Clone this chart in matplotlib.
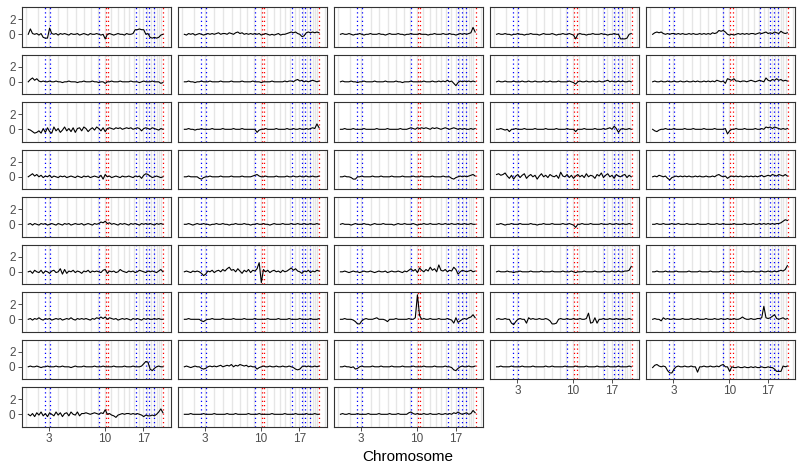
import numpy as np
import matplotlib
matplotlib.use("Agg")
import matplotlib.pyplot as plt

plt.rcParams['font.family'] = ['Liberation Sans', 'DejaVu Sans']

# chromosome lengths (Mb), 1..22, X
chr_len_mb = [249, 243, 198, 191, 181, 171, 159, 146, 141, 136, 135, 134,
              115, 107, 103, 90, 81, 78, 59, 63, 48, 51, 155]
tick_chroms = [3, 10, 17]

# marker loci (Mb, cumulative)
blue_mb = [406, 513, 1555, 2336, 2549, 2626, 2726]
red_mb = [1704, 1753, 2924]

# genome bins
bin_start_mb = 50
bin_step_mb = 45.5

x_lim = (-89, 3081)
y_lim = (-1.62, 3.53)
y_ticks = [0, 2]

# one profile per cell, row-major facet order
cell_01 = [0.0, 0.7, 0.1, 0.0, 0.1, -0.1, 0.1, -0.4,
           -0.5, -0.5, 0.8, 0.1, 0.0, 0.1, -0.1, 0.1,
           0.0, 0.1, 0.0, -0.1, 0.1, 0.0, 0.0, 0.1,
           -0.1, 0.0, 0.1, 0.0, -0.1, 0.1, 0.0, 0.0,
           0.1, 0.0, -0.1, 0.0, -0.6, 0.0, 0.1, 0.0,
           -0.1, 0.0, 0.1, 0.0, 0.0, -0.1, 0.1, 0.0,
           0.0, 0.1, 0.6, 0.6, 0.7, 0.6, 0.6, 0.0,
           0.1, -0.4, -0.5, -0.4, -0.5, -0.4, -0.1, 0.0]
cell_02 = [0.0, -0.1, 0.1, 0.0, 0.1, -0.1, 0.0, 0.1,
           0.0, -0.1, 0.0, 0.1, 0.0, 0.1, 0.0, 0.1,
           0.2, 0.0, 0.1, 0.1, 0.0, 0.2, 0.1, 0.0,
           0.2, 0.3, 0.1, 0.2, 0.0, 0.1, 0.0, 0.1,
           0.0, 0.1, 0.0, 0.1, -0.1, 0.0, 0.1, 0.0,
           -0.1, 0.0, -0.1, 0.0, 0.1, -0.1, 0.0, 0.0,
           0.1, 0.2, 0.3, 0.2, 0.3, 0.1, 0.0, -0.3,
           -0.2, 0.2, 0.3, 0.2, 0.3, 0.2, 0.3, 0.2]
cell_03 = [0.0, 0.1, 0.0, 0.0, 0.1, 0.0, -0.1, 0.0,
           0.0, 0.1, 0.0, -0.1, 0.0, 0.0, 0.1, 0.0,
           0.0, 0.0, 0.1, 0.0, 0.0, -0.1, 0.0, 0.1,
           0.0, 0.0, 0.0, 0.1, 0.0, 0.0, -0.1, 0.0,
           0.0, 0.1, 0.0, 0.0, 0.0, 0.1, 0.0, 0.0,
           0.0, -0.1, 0.0, 0.0, 0.1, 0.0, 0.0, 0.0,
           0.1, 0.0, 0.0, 0.1, 0.0, 0.0, -0.1, 0.0,
           0.1, 0.0, 0.1, 0.0, 0.1, 0.2, 0.9, 0.3]
cell_04 = [0.0, 0.1, 0.0, 0.0, 0.1, 0.0, 0.0, -0.1,
           0.0, 0.0, 0.1, 0.0, 0.0, -0.1, 0.0, 0.0,
           0.1, 0.0, 0.0, 0.0, -0.1, 0.0, 0.1, 0.0,
           0.0, 0.0, 0.1, 0.0, -0.1, 0.0, 0.0, 0.1,
           0.0, 0.0, 0.1, 0.0, -0.1, -0.6, 0.0, 0.1,
           0.0, 0.0, -0.1, 0.0, 0.0, 0.1, 0.0, 0.0,
           0.0, 0.1, 0.0, 0.0, -0.1, 0.0, 0.0, 0.1,
           0.0, 0.0, -0.6, -0.6, -0.6, -0.5, 0.0, 0.1]
cell_05 = [0.0, 0.2, 0.3, 0.2, 0.3, 0.1, 0.0, 0.1,
           0.0, 0.1, 0.1, 0.0, 0.1, 0.0, 0.1, 0.0,
           0.0, 0.1, 0.0, 0.1, 0.0, 0.0, 0.1, 0.0,
           0.1, 0.0, 0.1, 0.0, 0.2, 0.1, 0.2, 0.5,
           0.4, 0.5, 0.3, 0.0, -0.1, 0.0, -0.1, 0.0,
           0.1, 0.0, 0.1, 0.0, 0.1, 0.0, 0.1, 0.1,
           0.0, 0.1, 0.2, 0.1, 0.2, 0.3, 0.1, 0.2,
           0.1, 0.3, 0.2, 0.1, 0.4, 0.2, 0.1, 0.2]
cell_06 = [0.0, 0.3, 0.5, 0.2, 0.4, 0.1, 0.0, 0.1,
           0.0, 0.0, 0.1, 0.0, 0.0, 0.1, 0.0, 0.0,
           -0.1, 0.0, 0.0, 0.1, 0.0, 0.0, 0.0, -0.1,
           0.0, 0.0, 0.1, 0.0, 0.0, 0.0, 0.1, 0.0,
           0.0, -0.1, 0.0, 0.0, -0.2, 0.0, 0.0, 0.1,
           0.0, 0.0, 0.0, 0.1, 0.0, 0.0, 0.0, 0.0,
           0.1, 0.0, 0.0, 0.0, -0.1, 0.0, 0.1, 0.0,
           0.0, 0.0, 0.1, 0.0, 0.0, 0.0, -0.2, -0.1]
cell_07 = [0.0, 0.0, 0.1, 0.0, 0.0, -0.1, 0.0, 0.0,
           0.1, 0.0, 0.0, 0.0, 0.1, 0.0, 0.0, 0.0,
           0.0, 0.1, 0.0, 0.0, 0.0, 0.0, 0.1, 0.0,
           0.0, 0.0, 0.0, 0.1, 0.0, 0.0, 0.0, 0.0,
           0.1, 0.0, 0.0, 0.0, -0.1, 0.0, 0.0, 0.0,
           0.0, 0.1, 0.0, 0.0, 0.0, 0.0, 0.0, 0.1,
           0.0, 0.1, 0.1, 0.0, 0.2, 0.3, 0.1, 0.2,
           0.0, 0.1, 0.0, 0.1, 0.2, 0.1, 0.0, 0.1]
cell_08 = [0.0, 0.1, 0.0, 0.0, 0.0, 0.1, 0.0, 0.0,
           -0.1, 0.0, 0.0, 0.1, 0.0, 0.0, 0.0, 0.0,
           0.1, 0.0, 0.0, 0.0, 0.0, 0.1, 0.0, 0.0,
           0.0, 0.0, 0.1, 0.0, 0.0, -0.1, 0.0, 0.0,
           0.0, 0.1, 0.0, 0.0, 0.0, 0.0, 0.0, 0.1,
           0.0, 0.0, 0.0, 0.1, 0.0, 0.0, 0.1, 0.0,
           0.1, 0.0, 0.2, 0.0, 0.1, -0.2, -0.5, -0.1,
           0.1, 0.0, 0.1, 0.0, 0.1, 0.0, 0.1, 0.0]
cell_09 = [0.0, 0.1, 0.0, 0.0, 0.1, 0.0, 0.0, 0.0,
           0.1, 0.0, 0.0, 0.0, 0.1, 0.0, 0.0, 0.1,
           0.0, 0.0, 0.1, 0.0, 0.0, 0.0, 0.1, 0.0,
           0.0, 0.1, 0.0, 0.0, 0.0, 0.1, 0.0, 0.0,
           0.0, 0.0, 0.1, 0.0, -0.1, -0.3, 0.0, 0.1,
           0.0, 0.0, 0.1, 0.0, 0.0, 0.1, 0.0, 0.0,
           0.1, 0.0, 0.0, 0.1, 0.2, 0.0, 0.1, 0.0,
           0.0, 0.1, 0.0, 0.1, 0.0, 0.0, 0.1, 0.0]
cell_10 = [0.0, 0.1, 0.0, 0.0, 0.1, 0.0, 0.0, 0.1,
           0.0, 0.0, 0.1, 0.0, 0.0, 0.1, 0.0, 0.0,
           0.1, 0.0, 0.0, 0.1, 0.0, 0.1, 0.0, 0.0,
           0.1, 0.0, 0.1, 0.0, 0.1, 0.0, 0.2, 0.1,
           0.0, 0.1, -0.2, 0.4, 0.3, 0.2, 0.4, 0.1,
           0.1, 0.0, 0.1, 0.1, 0.0, 0.1, 0.2, 0.1,
           0.0, 0.1, 0.2, 0.1, 0.0, 0.5, 0.2, 0.1,
           0.3, 0.2, 0.4, 0.2, 0.3, 0.1, 0.2, 0.1]
cell_11 = [0.0, -0.1, -0.3, -0.5, -0.4, -0.2, -0.5, 0.1,
           -0.4, 0.2, -0.3, -0.5, 0.3, -0.2, 0.1, -0.4,
           -0.1, 0.3, -0.2, 0.1, -0.3, 0.2, -0.4, 0.1,
           0.2, -0.2, 0.3, 0.1, -0.3, 0.0, 0.2, -0.1,
           0.3, 0.1, -0.2, 0.2, -0.3, 0.1, 0.2, 0.1,
           0.0, 0.2, 0.1, 0.2, 0.0, 0.1, 0.2, 0.1,
           0.2, 0.0, 0.1, 0.2, 0.1, -0.2, 0.1, 0.2,
           0.1, 0.0, 0.2, 0.1, 0.0, -0.1, 0.1, 0.0]
cell_12 = [0.0, 0.0, 0.1, 0.0, 0.0, -0.1, 0.0, 0.0,
           0.1, 0.0, 0.0, 0.0, 0.0, 0.1, 0.0, 0.0,
           0.0, 0.0, 0.1, 0.0, 0.0, 0.0, 0.0, 0.1,
           0.0, 0.0, 0.0, 0.1, 0.0, 0.0, 0.0, 0.0,
           0.0, 0.0, -0.4, -0.1, 0.0, 0.0, 0.1, 0.0,
           0.0, 0.0, 0.0, 0.1, 0.0, 0.0, 0.0, 0.0,
           0.1, 0.0, 0.0, 0.1, 0.0, 0.0, 0.1, 0.0,
           0.0, 0.1, 0.0, 0.1, 0.2, 0.1, 0.7, 0.2]
cell_13 = [0.0, 0.0, 0.1, 0.0, 0.0, 0.0, 0.1, 0.0,
           0.0, 0.0, 0.0, 0.1, 0.0, 0.0, 0.0, 0.0,
           0.0, 0.1, 0.0, 0.0, 0.0, 0.0, 0.1, 0.0,
           0.0, 0.0, 0.0, 0.0, 0.1, 0.0, 0.0, 0.0,
           0.1, 0.2, 0.1, 0.0, 0.2, 0.1, 0.2, 0.1,
           0.2, 0.1, 0.0, 0.2, 0.1, 0.2, 0.1, 0.0,
           0.1, 0.2, 0.1, 0.0, 0.1, 0.2, 0.1, 0.0,
           0.1, 0.0, 0.1, 0.0, 0.0, 0.1, 0.0, 0.1]
cell_14 = [0.0, 0.0, 0.1, 0.0, -0.1, 0.0, -0.3, 0.0,
           0.0, 0.1, 0.0, 0.0, 0.0, 0.1, 0.0, 0.0,
           0.0, 0.0, 0.1, 0.0, 0.0, 0.0, 0.0, 0.1,
           0.0, 0.0, 0.0, 0.0, 0.1, 0.0, 0.0, 0.0,
           0.0, 0.1, 0.0, 0.0, 0.0, -0.3, 0.0, 0.0,
           0.0, 0.1, 0.0, 0.0, 0.0, 0.0, 0.1, 0.0,
           0.0, 0.0, 0.1, 0.0, 0.1, 0.2, 0.0, 0.4,
           0.1, -0.4, 0.0, 0.1, 0.0, 0.0, 0.1, 0.0]
cell_15 = [0.0, -0.2, -0.3, -0.1, 0.0, 0.0, 0.1, 0.0,
           0.0, 0.0, 0.1, 0.0, 0.0, 0.0, 0.0, 0.1,
           0.0, 0.0, 0.0, 0.1, 0.0, 0.0, 0.0, 0.0,
           0.1, 0.0, 0.0, 0.0, 0.0, 0.1, 0.0, 0.0,
           0.0, 0.0, 0.1, -0.6, -0.2, 0.0, 0.0, 0.1,
           0.0, 0.0, 0.0, 0.1, 0.0, 0.0, 0.0, 0.0,
           0.1, 0.0, 0.0, 0.1, 0.0, 0.3, 0.2, 0.3,
           0.1, 0.3, 0.2, 0.1, 0.0, 0.1, 0.0, 0.1]
cell_16 = [0.0, 0.2, 0.4, 0.1, 0.3, 0.0, 0.2, -0.1,
           0.1, 0.0, 0.2, -0.1, 0.1, 0.0, -0.1, 0.1,
           0.0, 0.1, -0.1, 0.0, 0.1, 0.0, -0.1, 0.1,
           0.0, -0.1, 0.1, 0.0, 0.1, -0.1, 0.0, 0.1,
           0.0, -0.1, 0.2, -0.3, 0.3, 0.0, 0.1, -0.1,
           0.0, 0.1, 0.0, -0.1, 0.1, 0.0, 0.0, 0.1,
           0.0, -0.1, 0.1, 0.0, 0.1, -0.2, 0.2, 0.4,
           0.3, 0.1, -0.1, 0.0, 0.1, 0.0, -0.1, 0.0]
cell_17 = [0.0, 0.0, 0.1, 0.0, 0.0, 0.0, 0.0, -0.2,
           -0.3, -0.1, 0.0, 0.0, 0.1, 0.0, 0.0, 0.0,
           0.0, 0.1, 0.0, 0.0, 0.0, 0.0, 0.1, 0.0,
           0.0, 0.0, 0.0, 0.1, 0.0, 0.0, 0.0, 0.0,
           0.1, 0.2, 0.3, 0.1, 0.0, 0.0, 0.1, 0.0,
           0.0, 0.0, 0.0, 0.1, 0.0, 0.0, 0.0, 0.0,
           0.1, 0.0, 0.0, 0.1, 0.0, 0.0, 0.1, 0.0,
           0.0, 0.1, 0.0, 0.0, 0.1, 0.0, 0.0, 0.1]
cell_18 = [0.0, 0.0, 0.1, 0.0, 0.0, -0.1, -0.3, -0.3,
           0.0, 0.0, 0.1, 0.0, 0.0, 0.0, 0.0, 0.1,
           0.0, 0.0, 0.0, 0.1, 0.0, 0.0, 0.0, 0.0,
           0.1, 0.0, 0.0, 0.0, 0.0, 0.1, 0.0, 0.0,
           0.0, 0.0, 0.1, 0.0, 0.0, 0.0, 0.1, 0.0,
           0.0, 0.0, 0.0, 0.1, 0.0, 0.0, 0.0, 0.0,
           0.1, 0.0, 0.0, 0.0, -0.2, -0.3, -0.1, 0.0,
           0.1, 0.0, 0.1, 0.0, 0.1, 0.2, 0.3, 0.1]
cell_19 = [0.3, 0.4, 0.2, 0.3, 0.5, 0.1, -0.2, 0.2,
           -0.3, 0.1, 0.3, -0.1, 0.2, 0.4, -0.2, 0.1,
           0.3, 0.0, 0.2, -0.3, 0.1, 0.4, 0.0, 0.2,
           -0.1, 0.3, 0.1, 0.0, 0.2, -0.2, 0.6, 0.1,
           0.0, 0.3, -0.1, 0.2, -0.2, 0.1, 0.3, 0.0,
           0.2, -0.1, 0.4, 0.0, 0.2, 0.1, -0.2, 0.3,
           0.1, 0.5, -0.1, 0.2, 0.4, 0.0, 0.2, -0.2,
           0.3, 0.1, 0.0, 0.2, 0.3, -0.1, 0.2, 0.0]
cell_20 = [0.0, 0.1, 0.0, 0.2, 0.1, 0.0, 0.1, -0.2,
           -0.4, -0.1, 0.0, 0.1, 0.0, 0.1, 0.0, 0.1,
           0.0, 0.1, 0.0, 0.0, 0.1, 0.0, 0.1, 0.0,
           0.0, 0.1, 0.0, 0.0, 0.1, 0.0, 0.2, 0.3,
           0.1, 0.0, 0.1, -0.2, 0.0, 0.1, 0.0, 0.1,
           0.0, 0.1, 0.0, 0.0, 0.1, 0.0, 0.1, 0.0,
           0.1, 0.0, 0.1, 0.2, 0.0, 0.1, 0.2, 0.1,
           0.3, 0.2, 0.1, 0.3, 0.2, 0.1, 0.3, 0.1]
cell_21 = [0.0, 0.1, -0.1, 0.1, 0.0, -0.1, 0.1, 0.0,
           0.1, -0.1, 0.0, 0.1, 0.0, -0.1, 0.1, 0.0,
           -0.1, 0.1, 0.0, 0.1, -0.1, 0.0, 0.1, 0.0,
           0.0, 0.1, -0.1, 0.0, 0.1, 0.0, -0.1, 0.1,
           0.0, 0.1, 0.3, 0.2, 0.4, 0.1, 0.2, 0.0,
           0.1, 0.0, -0.1, 0.1, 0.0, 0.1, 0.0, -0.1,
           0.1, 0.0, 0.1, 0.0, -0.1, 0.1, 0.0, 0.1,
           0.0, 0.1, 0.0, -0.1, 0.1, 0.0, 0.1, 0.0]
cell_22 = [0.0, 0.0, 0.1, 0.0, -0.1, 0.0, 0.1, 0.0,
           0.0, 0.1, 0.0, 0.0, -0.1, 0.0, 0.0, 0.1,
           0.0, 0.0, 0.1, 0.0, 0.0, -0.1, 0.0, 0.0,
           0.1, 0.0, 0.0, 0.0, 0.1, 0.0, 0.0, -0.1,
           0.0, 0.0, 0.1, 0.0, 0.0, 0.1, 0.0, 0.0,
           -0.1, 0.0, 0.1, 0.0, 0.0, 0.0, 0.1, 0.0,
           0.0, 0.0, 0.1, 0.0, 0.0, 0.1, 0.0, 0.0,
           0.1, 0.0, 0.0, 0.1, 0.0, 0.0, 0.1, 0.0]
cell_23 = [0.0, 0.1, 0.0, 0.0, 0.0, -0.1, 0.0, 0.1,
           0.0, 0.0, 0.0, 0.1, 0.0, 0.0, -0.1, 0.0,
           0.1, 0.0, 0.0, 0.0, 0.1, 0.0, 0.0, 0.0,
           0.0, -0.1, 0.0, 0.1, 0.0, 0.0, 0.1, 0.0,
           0.0, 0.0, 0.1, 0.0, -0.1, 0.0, 0.0, 0.1,
           0.0, 0.0, 0.1, 0.0, 0.0, 0.0, 0.1, 0.0,
           0.0, 0.1, 0.0, 0.0, 0.1, 0.0, 0.0, 0.1,
           0.0, 0.0, 0.1, 0.0, 0.0, 0.1, 0.0, 0.0]
cell_24 = [0.0, 0.0, 0.1, 0.0, -0.1, 0.0, 0.0, 0.1,
           0.0, 0.0, 0.0, 0.1, 0.0, 0.0, 0.0, 0.0,
           0.1, 0.0, 0.0, -0.1, 0.0, 0.0, 0.1, 0.0,
           0.0, 0.0, 0.1, 0.0, 0.0, 0.0, 0.0, 0.1,
           0.0, 0.0, 0.1, 0.0, -0.1, -0.4, 0.0, 0.0,
           0.1, 0.0, 0.0, 0.0, 0.1, 0.0, 0.0, 0.0,
           0.0, 0.1, 0.0, 0.0, 0.0, 0.1, 0.0, 0.0,
           0.1, 0.0, 0.0, 0.1, 0.0, 0.0, 0.1, 0.0]
cell_25 = [0.0, 0.0, 0.1, 0.0, 0.0, 0.1, 0.0, 0.0,
           0.0, 0.1, 0.0, 0.0, 0.1, 0.0, 0.0, 0.0,
           0.1, 0.0, 0.0, 0.0, 0.0, 0.1, 0.0, 0.0,
           0.0, 0.0, 0.1, 0.0, 0.0, 0.0, 0.1, 0.0,
           0.0, 0.1, 0.0, 0.0, 0.0, 0.0, 0.1, 0.0,
           0.0, 0.0, 0.0, 0.1, 0.0, 0.0, 0.0, 0.1,
           0.0, 0.0, 0.1, 0.0, 0.1, 0.0, 0.1, 0.0,
           0.1, 0.0, 0.1, 0.1, 0.2, 0.4, 0.6, 0.5]
cell_26 = [0.0, 0.1, -0.2, 0.2, 0.0, -0.1, 0.2, -0.2,
           0.1, 0.0, -0.2, 0.1, 0.2, -0.1, 0.0, 0.4,
           -0.3, 0.3, -0.2, 0.1, 0.0, 0.2, -0.1, 0.1,
           0.0, -0.2, 0.1, 0.0, 0.2, -0.1, 0.1, 0.0,
           0.1, 0.0, -0.1, 0.2, 0.3, -0.2, 0.1, 0.0,
           0.1, -0.1, 0.0, 0.3, 0.1, 0.0, -0.1, 0.1,
           0.0, 0.1, -0.1, 0.0, 0.2, 0.1, 0.0, -0.1,
           0.1, 0.0, 0.1, 0.0, -0.1, 0.1, 0.3, 0.0]
cell_27 = [0.0, 0.1, 0.0, -0.1, 0.1, 0.0, 0.1, 0.0,
           -0.2, -0.5, -0.3, 0.1, 0.0, 0.2, -0.1, 0.1,
           0.2, 0.0, 0.3, 0.1, 0.4, 0.6, 0.2, 0.3,
           0.0, 0.4, 0.1, -0.2, 0.2, 0.0, 0.3, -0.1,
           0.2, 0.1, 0.4, 1.2, -1.4, 0.3, 0.0, 0.2,
           -0.1, 0.1, 0.2, 0.0, 0.1, -0.1, 0.2, 0.0,
           0.1, 0.3, 0.5, 0.2, 0.4, 0.1, 0.0, -0.2,
           0.1, 0.0, 0.2, -0.1, 0.1, 0.0, 0.2, 0.1]
cell_28 = [0.0, 0.0, 0.1, 0.0, -0.1, 0.0, 0.1, 0.0,
           0.0, -0.1, 0.0, 0.1, 0.0, 0.0, 0.1, 0.0,
           -0.1, 0.0, 0.1, 0.0, 0.0, 0.1, -0.1, 0.0,
           0.1, 0.0, 0.0, 0.1, 0.0, -0.1, 0.1, 0.0,
           0.2, 0.4, 0.1, 0.3, -0.1, 0.5, 0.2, 0.0,
           0.3, 0.1, 0.6, 0.2, 0.4, 0.0, 0.9, 0.2,
           0.1, 0.3, 0.0, 0.2, 0.1, 0.6, 0.3, -0.3,
           0.0, 0.2, 0.1, 0.0, 0.1, 0.2, 0.0, 0.1]
cell_29 = [0.0, 0.1, 0.0, 0.0, 0.0, 0.1, 0.0, 0.0,
           -0.1, 0.0, 0.0, 0.1, 0.0, 0.0, 0.0, 0.0,
           0.1, 0.0, 0.0, 0.0, 0.0, 0.1, 0.0, 0.0,
           0.0, 0.0, 0.1, 0.0, 0.0, 0.0, 0.0, 0.1,
           0.0, 0.0, 0.0, 0.1, 0.0, -0.1, 0.0, 0.0,
           0.0, 0.1, 0.0, 0.0, 0.0, 0.0, 0.1, 0.0,
           0.0, 0.0, 0.1, 0.0, 0.0, 0.0, 0.1, 0.0,
           0.0, 0.1, 0.0, 0.0, 0.1, 0.1, 0.2, 0.7]
cell_30 = [0.0, 0.0, 0.1, 0.0, 0.0, 0.0, 0.1, 0.0,
           0.0, 0.0, 0.0, 0.1, 0.0, 0.0, 0.0, 0.0,
           0.0, 0.1, 0.0, 0.0, 0.0, 0.0, 0.1, 0.0,
           0.0, 0.0, 0.0, 0.1, 0.0, 0.0, 0.0, 0.0,
           0.1, 0.0, 0.0, 0.0, 0.0, 0.1, 0.0, 0.0,
           0.0, 0.0, 0.1, 0.0, 0.0, 0.0, 0.0, 0.1,
           0.0, 0.0, 0.0, 0.1, 0.0, 0.0, 0.1, 0.0,
           0.0, 0.1, 0.0, 0.1, 0.2, 0.1, 0.3, 0.8]
cell_31 = [0.0, 0.1, -0.1, 0.1, 0.0, 0.2, 0.0, -0.1,
           0.1, 0.0, 0.1, -0.1, 0.0, 0.1, 0.0, 0.1,
           -0.1, 0.0, 0.1, 0.0, 0.2, 0.0, -0.1, 0.1,
           0.0, 0.1, 0.0, 0.1, 0.0, -0.1, 0.1, 0.0,
           0.2, 0.1, 0.3, 0.1, 0.3, 0.0, 0.2, 0.1,
           0.0, 0.1, -0.1, 0.0, 0.1, 0.0, 0.1, 0.0,
           -0.1, 0.1, 0.0, 0.1, 0.0, -0.1, 0.1, 0.0,
           0.1, 0.0, 0.0, 0.1, 0.0, 0.1, 0.0, 0.0]
cell_32 = [0.0, 0.0, 0.1, 0.0, 0.0, 0.0, 0.0, 0.0,
           -0.2, -0.3, -0.1, 0.0, 0.0, 0.1, 0.0, 0.0,
           0.0, 0.0, 0.1, 0.0, 0.0, 0.0, 0.0, 0.1,
           0.0, 0.0, 0.0, 0.0, 0.1, 0.0, 0.0, 0.0,
           0.0, 0.1, 0.0, 0.0, 0.0, 0.0, 0.0, 0.1,
           0.0, 0.0, 0.0, 0.0, 0.1, 0.0, 0.0, 0.0,
           0.0, 0.1, 0.0, 0.0, 0.0, 0.0, 0.1, 0.0,
           0.0, 0.0, 0.0, 0.1, 0.0, 0.0, 0.0, 0.1]
cell_33 = [0.0, 0.0, 0.1, 0.0, 0.0, 0.0, -0.1, -0.3,
           -0.6, -0.6, -0.2, 0.0, 0.1, 0.0, 0.0, 0.0,
           0.1, 0.2, 0.0, 0.0, 0.0, -0.1, -0.3, 0.0,
           0.0, 0.0, 0.1, 0.0, 0.0, 0.0, 0.0, 0.0,
           0.1, 0.0, 0.0, 0.2, 3.2, 0.5, 0.0, 0.1,
           0.0, 0.0, 0.1, 0.0, 0.0, 0.0, 0.1, 0.0,
           0.0, 0.0, 0.1, 0.0, -0.1, -0.5, 0.2, -0.4,
           -0.2, 0.0, 0.1, 0.0, 0.2, 0.3, 0.6, 0.2]
cell_34 = [0.0, 0.1, 0.0, 0.0, 0.1, 0.0, 0.0, -0.5,
           -0.7, -0.3, 0.0, 0.1, 0.0, 0.0, -0.5, 0.2,
           0.0, 0.1, 0.0, 0.0, 0.1, 0.0, 0.0, 0.1,
           0.0, -0.2, -0.6, -0.6, -0.5, 0.0, 0.1, 0.0,
           0.0, 0.1, 0.0, 0.0, 0.1, 0.0, 0.0, 0.1,
           0.0, 0.0, 0.1, 0.8, -0.5, -0.4, 0.2, -0.5,
           0.0, 0.0, 0.1, 0.0, 0.0, 0.1, 0.0, 0.0,
           0.1, 0.0, 0.0, 0.1, 0.0, 0.0, 0.1, 0.0]
cell_35 = [0.0, 0.1, 0.0, 0.0, -0.2, 0.2, 0.0, 0.1,
           0.0, 0.0, 0.1, 0.0, 0.0, 0.0, 0.1, 0.0,
           0.0, 0.0, 0.1, 0.0, 0.0, 0.1, 0.0, 0.0,
           0.0, 0.1, 0.0, 0.0, 0.0, 0.1, 0.0, 0.0,
           0.1, 0.0, 0.0, 0.1, 0.0, 0.0, 0.1, 0.0,
           0.0, 0.1, 0.3, 0.1, 0.0, 0.0, 0.1, 0.0,
           0.0, 0.1, 0.1, 0.2, 1.7, 0.2, 0.1, 0.2,
           0.4, 0.6, 0.1, 0.0, 0.1, 0.2, 0.0, 0.1]
cell_36 = [0.0, 0.1, 0.0, 0.0, 0.1, 0.0, -0.1, 0.0,
           0.0, 0.1, 0.0, 0.0, 0.0, 0.1, 0.0, 0.0,
           0.1, 0.0, 0.0, 0.0, -0.1, 0.0, 0.1, 0.0,
           0.0, 0.0, 0.1, 0.0, 0.0, 0.0, 0.0, 0.1,
           0.0, 0.0, 0.0, 0.1, 0.0, 0.0, 0.0, 0.0,
           0.1, 0.0, 0.0, 0.0, 0.0, 0.1, 0.0, 0.0,
           0.0, 0.1, 0.0, 0.0, 0.0, 0.1, 0.4, 0.7,
           0.6, -0.3, -0.5, -0.2, 0.0, 0.1, 0.0, 0.0]
cell_37 = [0.0, 0.1, 0.0, -0.1, 0.0, 0.1, 0.0, 0.0,
           -0.2, -0.3, -0.2, 0.0, 0.1, 0.0, 0.1, 0.0,
           0.1, 0.2, 0.0, 0.1, 0.2, 0.1, 0.3, 0.0,
           0.2, 0.1, 0.3, 0.2, 0.1, 0.2, 0.0, 0.1,
           0.0, 0.0, -0.3, -0.1, 0.0, 0.1, 0.0, 0.0,
           0.1, 0.0, 0.0, 0.1, 0.0, 0.0, 0.1, 0.0,
           0.0, 0.1, 0.0, -0.1, -0.3, -0.4, -0.3, 0.0,
           0.1, 0.0, 0.1, 0.0, 0.0, 0.1, 0.0, 0.1]
cell_38 = [0.0, 0.0, 0.1, 0.0, 0.0, -0.1, 0.0, -0.3,
           -0.2, 0.0, 0.1, 0.0, 0.0, 0.0, 0.0, 0.1,
           0.0, 0.0, 0.0, 0.1, 0.0, 0.0, 0.0, 0.0,
           0.1, 0.0, 0.0, 0.0, 0.0, 0.1, 0.0, 0.0,
           0.0, 0.0, 0.1, 0.0, 0.0, 0.0, 0.0, 0.1,
           0.0, 0.0, 0.0, 0.0, 0.1, 0.0, 0.0, 0.0,
           0.0, 0.1, 0.0, 0.0, -0.1, -0.4, -0.5, -0.2,
           0.0, 0.1, 0.0, 0.0, 0.1, 0.0, 0.0, 0.1]
cell_39 = [0.0, 0.0, 0.1, 0.0, 0.0, 0.0, 0.0, 0.1,
           0.0, 0.0, 0.0, 0.0, 0.1, 0.0, 0.0, 0.0,
           0.0, 0.1, 0.0, 0.0, 0.0, 0.0, 0.0, 0.1,
           0.0, 0.0, 0.1, 0.0, 0.0, 0.0, 0.0, 0.0,
           0.1, 0.0, 0.0, 0.0, 0.0, 0.1, 0.0, 0.0,
           0.0, 0.0, 0.1, 0.0, 0.0, 0.0, 0.0, 0.1,
           0.0, 0.0, 0.0, 0.0, 0.1, 0.0, 0.0, 0.0,
           0.0, 0.1, 0.0, 0.0, 0.0, 0.0, 0.1, 0.0]
cell_40 = [-0.1, 0.2, 0.3, 0.1, 0.0, 0.1, 0.0, -0.5,
           -0.8, -0.8, -0.3, 0.0, 0.1, 0.0, 0.0, 0.1,
           0.0, 0.0, 0.1, 0.0, 0.0, -0.7, 0.0, 0.0,
           0.1, 0.0, 0.0, 0.1, 0.0, 0.0, 0.1, 0.0,
           0.2, 0.3, 0.0, 0.0, -0.6, 0.0, -0.1, -0.1,
           0.0, -0.1, -0.1, 0.0, -0.1, -0.1, 0.0, -0.1,
           0.0, -0.1, -0.1, 0.0, -0.1, -0.1, 0.0, -0.1,
           -0.1, -0.3, -0.6, -0.6, -0.6, 0.1, 0.0, 0.1]
cell_41 = [0.0, -0.2, 0.1, -0.3, 0.2, -0.1, 0.3, -0.2,
           0.1, -0.3, 0.2, 0.0, -0.2, 0.3, -0.1, 0.2,
           -0.3, 0.1, 0.2, -0.2, 0.3, 0.0, -0.1, 0.3,
           -0.2, 0.1, 0.1, 0.2, 0.1, 0.0, 0.1, 0.2,
           0.1, 0.0, 0.2, 0.1, 0.6, 0.0, 0.1, -0.1,
           -0.2, -0.4, -0.1, 0.0, 0.1, 0.0, 0.1, 0.1,
           0.0, 0.1, 0.0, 0.1, 0.0, -0.1, -0.3, -0.1,
           -0.2, -0.2, -0.1, -0.2, 0.0, 0.3, 0.7, 0.2]
cell_42 = [0.0, 0.0, 0.0, 0.1, 0.0, 0.0, 0.0, 0.0,
           0.0, 0.1, 0.0, 0.0, 0.0, 0.0, 0.1, 0.0,
           0.0, 0.0, 0.0, 0.0, 0.1, 0.0, 0.0, 0.0,
           0.1, 0.0, 0.0, 0.0, 0.0, 0.0, 0.1, 0.0,
           0.0, 0.0, 0.0, 0.1, 0.0, 0.0, 0.0, 0.0,
           0.0, 0.1, 0.0, 0.0, 0.0, 0.0, 0.0, 0.1,
           0.0, 0.0, 0.0, 0.0, 0.1, 0.0, 0.0, 0.0,
           0.0, 0.1, 0.0, 0.0, 0.0, 0.1, 0.0, 0.0]
cell_43 = [0.0, 0.1, 0.0, 0.0, 0.1, 0.0, 0.0, 0.0,
           0.1, 0.0, 0.0, 0.0, 0.0, 0.1, 0.0, 0.0,
           0.0, 0.0, 0.1, 0.0, 0.0, 0.0, 0.0, 0.1,
           0.0, 0.0, 0.0, 0.1, 0.0, 0.0, 0.0, 0.0,
           0.2, 0.3, 0.1, 0.0, 0.1, 0.0, 0.0, 0.1,
           0.0, 0.0, 0.1, 0.0, 0.0, 0.0, 0.1, 0.0,
           0.0, 0.1, 0.0, 0.1, 0.0, 0.2, 0.1, 0.3,
           0.1, 0.0, 0.1, 0.2, 0.0, 0.1, 0.5, 0.2]

cells = [cell_01, cell_02, cell_03, cell_04, cell_05, cell_06, cell_07, cell_08,
         cell_09, cell_10, cell_11, cell_12, cell_13, cell_14, cell_15, cell_16,
         cell_17, cell_18, cell_19, cell_20, cell_21, cell_22, cell_23, cell_24,
         cell_25, cell_26, cell_27, cell_28, cell_29, cell_30, cell_31, cell_32,
         cell_33, cell_34, cell_35, cell_36, cell_37, cell_38, cell_39, cell_40,
         cell_41, cell_42, cell_43]

chr_bounds = np.concatenate([[0], np.cumsum(chr_len_mb)])
tick_pos = [chr_bounds[c - 1] for c in tick_chroms]

n_cols = 5
fig_w, fig_h = 800, 470
left0, col_pitch, pw = 21.7, 156.1, 149.0
top0, row_pitch, ph = 7.3, 47.5, 39.4

fig = plt.figure(figsize=(fig_w / 100, fig_h / 100), dpi=100)
fig.patch.set_facecolor('white')

for k, vals in enumerate(cells):
    r, c = divmod(k, n_cols)
    ax = fig.add_axes([(left0 + c * col_pitch) / fig_w,
                       1 - (top0 + r * row_pitch + ph) / fig_h,
                       pw / fig_w, ph / fig_h])
    for b in chr_bounds:
        ax.axvline(b, color='#E6E6E6', lw=1.0, zorder=0)
    for b in blue_mb:
        ax.axvline(b, color='blue', lw=0.9, ls=(0, (1, 2.4)), zorder=1)
    for b in red_mb:
        ax.axvline(b, color='red', lw=0.9, ls=(0, (1, 2.4)), zorder=1)
    bin_x = bin_start_mb + bin_step_mb * np.arange(len(vals))
    ax.plot(bin_x, vals, color='black', lw=0.8, zorder=3)
    ax.set_xlim(x_lim)
    ax.set_ylim(y_lim)
    for s in ax.spines.values():
        s.set_color('#333333')
        s.set_linewidth(0.8)
    ax.tick_params(length=3, width=0.6, color='#333333', labelsize=8.5,
                   labelcolor='#4D4D4D', pad=1.5)
    if c == 0:
        ax.set_yticks(y_ticks)
    else:
        ax.set_yticks([])
    if k + n_cols >= len(cells):
        ax.set_xticks(tick_pos)
        ax.set_xticklabels([str(t) for t in tick_chroms])
    else:
        ax.set_xticks([])

fig.text(408 / fig_w, 1 - 457 / fig_h, 'Chromosome', ha='center', va='center',
         fontsize=11)

fig.savefig('out.png', dpi=100)
